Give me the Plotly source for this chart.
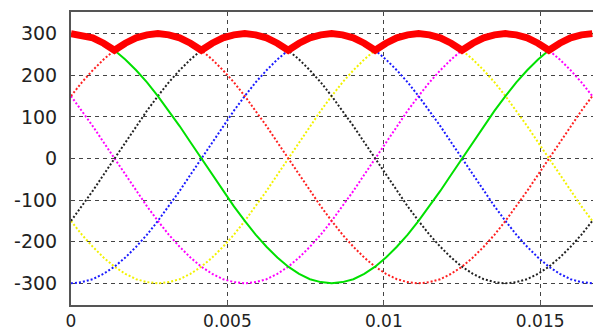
import plotly.graph_objects as go

# Sample instants: one 60 Hz period, 7.5 degree steps (48 intervals)
n_steps = 48
period = 1 / 60
t = [k * period / n_steps for k in range(n_steps + 1)]

# Phase voltages (V) at each sample instant
v_green = [300, 297, 290, 277, 260, 238, 212, 183, 150, 115, 78, 39, 0,
           -39, -78, -115, -150, -183, -212, -238, -260, -277, -290, -297, -300,
           -297, -290, -277, -260, -238, -212, -183, -150, -115, -78, -39, 0,
           39, 78, 115, 150, 183, 212, 238, 260, 277, 290, 297, 300]
v_red = [150, 183, 212, 238, 260, 277, 290, 297, 300, 297, 290, 277, 260,
         238, 212, 183, 150, 115, 78, 39, 0, -39, -78, -115, -150,
         -183, -212, -238, -260, -277, -290, -297, -300, -297, -290, -277, -260,
         -238, -212, -183, -150, -115, -78, -39, 0, 39, 78, 115, 150]
v_black = [-150, -115, -78, -39, 0, 39, 78, 115, 150, 183, 212, 238, 260,
           277, 290, 297, 300, 297, 290, 277, 260, 238, 212, 183, 150,
           115, 78, 39, 0, -39, -78, -115, -150, -183, -212, -238, -260,
           -277, -290, -297, -300, -297, -290, -277, -260, -238, -212, -183, -150]
v_blue = [-300, -297, -290, -277, -260, -238, -212, -183, -150, -115, -78, -39, 0,
          39, 78, 115, 150, 183, 212, 238, 260, 277, 290, 297, 300,
          297, 290, 277, 260, 238, 212, 183, 150, 115, 78, 39, 0,
          -39, -78, -115, -150, -183, -212, -238, -260, -277, -290, -297, -300]
v_yellow = [-150, -183, -212, -238, -260, -277, -290, -297, -300, -297, -290, -277, -260,
            -238, -212, -183, -150, -115, -78, -39, 0, 39, 78, 115, 150,
            183, 212, 238, 260, 277, 290, 297, 300, 297, 290, 277, 260,
            238, 212, 183, 150, 115, 78, 39, 0, -39, -78, -115, -150]
v_magenta = [150, 115, 78, 39, 0, -39, -78, -115, -150, -183, -212, -238, -260,
             -277, -290, -297, -300, -297, -290, -277, -260, -238, -212, -183, -150,
             -115, -78, -39, 0, 39, 78, 115, 150, 183, 212, 238, 260,
             277, 290, 297, 300, 297, 290, 277, 260, 238, 212, 183, 150]

# Rectified output: upper envelope of all phases
v_out = [max(vals) for vals in zip(v_green, v_red, v_black, v_blue, v_yellow, v_magenta)]

x_ticks = [0, 0.005, 0.01, 0.015]
x_tick_text = ["0", "0.005", "0.01", "0.015"]
y_ticks = [-300, -200, -100, 0, 100, 200, 300]
y_tick_text = ["-300", "-200", "-100", "0", "100", "200", "300"]

dotted = "2px,2px"
fig = go.Figure()
for vals, color, dash in [
    (v_yellow, "#f2f200", dotted),
    (v_magenta, "#ff00ff", dotted),
    (v_blue, "#1a1aff", dotted),
    (v_black, "#222222", dotted),
    (v_red, "#ff2020", dotted),
    (v_green, "#00e000", "solid"),
]:
    fig.add_trace(go.Scatter(
        x=t, y=vals, mode="lines",
        line=dict(color=color, width=2, dash=dash),
        showlegend=False, hoverinfo="skip",
    ))

fig.add_trace(go.Scatter(
    x=t, y=v_out, mode="lines",
    line=dict(color="#ff0000", width=7),
    showlegend=False, hoverinfo="skip",
))

fig.update_layout(
    width=593, height=332,
    margin=dict(l=71, r=0, t=12, b=27),
    paper_bgcolor="white", plot_bgcolor="white",
    xaxis=dict(
        range=[0, 0.016688], tickvals=x_ticks, ticktext=x_tick_text,
        showgrid=True, gridcolor="#444444", griddash="4px,4px", gridwidth=1,
        zeroline=False, showline=True, linecolor="#555555", linewidth=1.5,
        mirror=True, ticks="inside", ticklen=4, tickcolor="#555555",
        tickfont=dict(family="DejaVu Sans", size=17, color="#222222"),
        ticklabelstandoff=0, automargin=False,
    ),
    yaxis=dict(
        range=[-352, 352], tickvals=y_ticks, ticktext=y_tick_text,
        showgrid=True, gridcolor="#444444", griddash="4px,4px", gridwidth=1,
        zeroline=False, showline=True, linecolor="#555555", linewidth=2,
        ticks="", ticklabelstandoff=8, automargin=False,
        tickfont=dict(family="DejaVu Sans", size=19, color="#222222"),
    ),
)

fig.write_html("out.html")
